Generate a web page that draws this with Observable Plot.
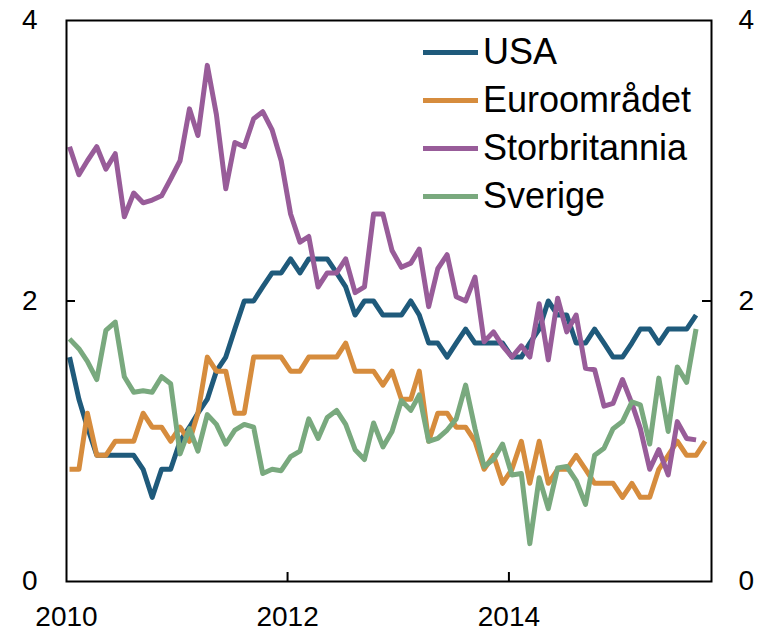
<!DOCTYPE html>
<html>
<head>
<meta charset="utf-8">
<script src="https://cdn.jsdelivr.net/npm/d3@7"></script>
<script src="https://cdn.jsdelivr.net/npm/@observablehq/plot@0.6"></script>
<style>
  html, body { margin: 0; padding: 0; background: #fff; }
  #wrap { position: relative; width: 759px; height: 632px; font-family: "Liberation Sans", Arial, sans-serif; }
  #legend { position: absolute; left: 423px; top: 28px; }
  .row { display: flex; align-items: center; height: 48px; }
  .sw { width: 55px; height: 5px; margin-right: 5px; }
  .lab { font-size: 36px; line-height: 48px; color: #000; }
</style>
</head>
<body>
<div id="wrap"><div id="legend"></div></div>
<script>
// Monthly values, starting January 2010
const startMonth = "2010-01";
const seriesNames = ["USA", "Euroområdet", "Storbritannia", "Sverige"];
const seriesColors = ["#1f5a7b", "#d68c3d", "#985c99", "#79a97e"];

const usa = [
  1.6,1.3,1.1,0.9,0.9,0.9,0.9,0.9,0.8,0.6,0.8,0.8,
  1.0,1.1,1.2,1.3,1.5,1.6,1.8,2.0,2.0,2.1,2.2,2.2,
  2.3,2.2,2.3,2.3,2.3,2.2,2.1,1.9,2.0,2.0,1.9,1.9,
  1.9,2.0,1.9,1.7,1.7,1.6,1.7,1.8,1.7,1.7,1.7,1.7,
  1.6,1.6,1.7,1.8,2.0,1.9,1.9,1.7,1.7,1.8,1.7,1.6,
  1.6,1.7,1.8,1.8,1.7,1.8,1.8,1.8,1.9
];
const euro = [
  0.8,0.8,1.2,0.9,0.9,1.0,1.0,1.0,1.2,1.1,1.1,1.0,
  1.1,1.0,1.2,1.6,1.5,1.5,1.2,1.2,1.6,1.6,1.6,1.6,
  1.5,1.5,1.6,1.6,1.6,1.6,1.7,1.5,1.5,1.5,1.4,1.5,
  1.3,1.3,1.5,1.0,1.2,1.2,1.1,1.1,1.0,0.8,0.9,0.7,
  0.8,1.0,0.7,1.0,0.7,0.8,0.8,0.9,0.8,0.7,0.7,0.7,
  0.6,0.7,0.6,0.6,0.8,0.9,1.0,0.9,0.9,1.0
];
const uk = [
  3.1,2.9,3.0,3.1,2.94,3.05,2.6,2.77,2.7,2.72,2.75,2.87,
  3.0,3.37,3.18,3.68,3.33,2.8,3.13,3.1,3.3,3.35,3.22,3.0,
  2.62,2.42,2.46,2.1,2.2,2.2,2.3,2.06,2.1,2.62,2.62,2.36,
  2.24,2.27,2.37,1.96,2.23,2.33,2.03,2.0,2.17,1.71,1.78,1.68,
  1.6,1.68,1.6,1.98,1.58,2.02,1.78,1.9,1.52,1.51,1.25,1.27,
  1.44,1.27,1.09,0.8,0.94,0.76,1.14,1.02,1.01
];
const sweden = [
  1.73,1.66,1.57,1.44,1.79,1.85,1.46,1.35,1.36,1.35,1.46,1.41,
  0.91,1.09,0.93,1.19,1.12,0.98,1.08,1.12,1.10,0.77,0.80,0.79,
  0.89,0.93,1.16,1.02,1.17,1.22,1.12,0.94,0.87,1.13,0.96,1.07,
  1.29,1.22,1.33,1.0,1.02,1.08,1.16,1.40,1.09,0.82,0.87,0.98,
  0.76,0.77,0.27,0.74,0.52,0.81,0.82,0.72,0.55,0.90,0.95,1.09,
  1.14,1.28,1.26,0.98,1.45,1.07,1.53,1.42,1.80
];
const seriesValues = [usa, euro, uk, sweden];

const xTickLabels = ["2010", "2012", "2014"];
const yTicks = [0, 2, 4];
const xDomain = ["2010-01-01", "2015-11-01"];

const parse = d3.utcParse("%Y-%m");
const start = parse(startMonth);
const rows = [];
seriesValues.forEach((vals, s) => {
  vals.forEach((v, i) => {
    const m = d3.utcMonth.offset(start, i);
    rows.push({series: seriesNames[s], date: d3.utcDay.offset(m, 10), value: v});
  });
});

const x0 = new Date(xDomain[0]), x1 = new Date(xDomain[1]);
const xTicks = xTickLabels.map(s => new Date(s + "-01-01"));

const plot = Plot.plot({
  width: 759,
  height: 632,
  marginLeft: 66,
  marginRight: 48,
  marginTop: 20,
  marginBottom: 51,
  style: {fontFamily: "'Liberation Sans', Arial, sans-serif", fontSize: "28px", background: "#fff", color: "#000", overflow: "visible"},
  x: {type: "utc", domain: [x0, x1]},
  y: {domain: [0, 4]},
  color: {domain: seriesNames, range: seriesColors},
  marks: [
    Plot.axisX({ticks: xTicks, tickSize: 0, tickPadding: 25, tickFormat: d3.utcFormat("%Y"), fontSize: 28, label: null}),
    Plot.axisY({ticks: yTicks, anchor: "left", tickSize: 0, tickPadding: 29, tickFormat: d => String(d), fontSize: 28, label: null}),
    Plot.axisY({ticks: yTicks, anchor: "right", tickSize: 0, tickPadding: 27, tickFormat: d => String(d), fontSize: 28, label: null}),
    Plot.ruleX(xTicks.slice(1), {x: d => d, y1: () => 0, y2: () => 0, insetTop: -9, stroke: "#000", strokeWidth: 2}),
    Plot.ruleY([2], {y: d => d, x1: () => x0, x2: () => x0, insetRight: -9, stroke: "#000", strokeWidth: 2}),
    Plot.ruleY([2], {y: d => d, x1: () => x1, x2: () => x1, insetLeft: -9, stroke: "#000", strokeWidth: 2}),
    Plot.line(rows, {x: "date", y: "value", z: "series", stroke: "series", strokeWidth: 5, strokeLinejoin: "round", strokeLinecap: "butt"}),
    Plot.frame({stroke: "#000", strokeWidth: 2})
  ]
});

const wrap = document.getElementById("wrap");
wrap.insertBefore(plot, wrap.firstChild);

const legend = document.getElementById("legend");
seriesNames.forEach((name, i) => {
  const r = document.createElement("div");
  r.className = "row";
  const sw = document.createElement("div");
  sw.className = "sw";
  sw.style.background = seriesColors[i];
  const lab = document.createElement("span");
  lab.className = "lab";
  lab.textContent = name;
  r.appendChild(sw);
  r.appendChild(lab);
  legend.appendChild(r);
});
</script>
</body>
</html>
